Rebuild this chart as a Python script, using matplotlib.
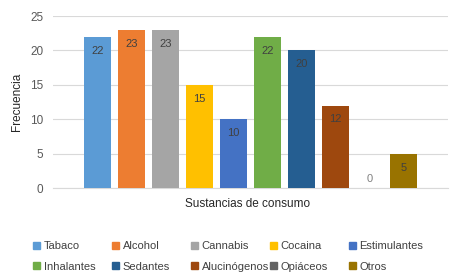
import numpy as np
import matplotlib.pyplot as plt
from matplotlib.patches import Patch

sustancias = ['Tabaco', 'Alcohol', 'Cannabis', 'Cocaina', 'Estimulantes',
              'Inhalantes', 'Sedantes', 'Alucinógenos', 'Opiáceos', 'Otros']
frecuencia = [22, 23, 23, 15, 10, 22, 20, 12, 0, 5]
colores = ['#5B9BD5', '#ED7D31', '#A5A5A5', '#FFC000', '#4472C4',
           '#70AD47', '#255E91', '#9E480E', '#636363', '#997300']

plt.rcParams['font.family'] = ['Liberation Sans', 'DejaVu Sans']

fig = plt.figure(figsize=(4.61, 2.77), dpi=100)
ax = fig.add_axes([0.115, 0.321, 0.857, 0.621])

x = np.arange(len(sustancias))
ax.bar(x, frecuencia, width=0.8, color=colores, zorder=3)

# etiquetas dentro de las barras
for xi, v in zip(x, frecuencia):
    if v > 0:
        ax.text(xi, v - 1.3, str(v), ha='center', va='top', fontsize=8, color='#404040', zorder=4)
    else:
        ax.text(xi, 0.6, str(v), ha='center', va='bottom', fontsize=8, color='#808080', zorder=4)

ax.set_xlim(-1.31, 10.3)
ax.set_ylim(0, 25)
ax.set_yticks([0, 5, 10, 15, 20, 25])
ax.set_xticks([])
ax.grid(axis='y', color='#D9D9D9', linewidth=0.8, zorder=0)
for s in ['top', 'right', 'left']:
    ax.spines[s].set_visible(False)
ax.spines['bottom'].set_color('#D9D9D9')
ax.tick_params(axis='y', length=0, labelsize=8.5, labelcolor='#595959', pad=7)

ax.set_ylabel('Frecuencia', fontsize=8.5, color='#262626', labelpad=5)
fig.text(0.536, 0.262, 'Sustancias de consumo', ha='center', va='center', fontsize=8.5, color='#262626')

# leyenda: cinco columnas de ancho fijo
handles = [Patch(color=c) for c in colores]
col_x = [33, 112, 191, 270, 349]
for j, cx in enumerate(col_x):
    fig.legend([handles[j], handles[j + 5]], [sustancias[j], sustancias[j + 5]],
               loc='upper left', bbox_to_anchor=(cx / 461, 0.13),
               frameon=False, fontsize=8, handlelength=0.6, handleheight=0.6,
               handletextpad=0.35, labelspacing=0.95, labelcolor='#404040',
               borderaxespad=0, borderpad=0)

fig.savefig('out.png', dpi=100)
